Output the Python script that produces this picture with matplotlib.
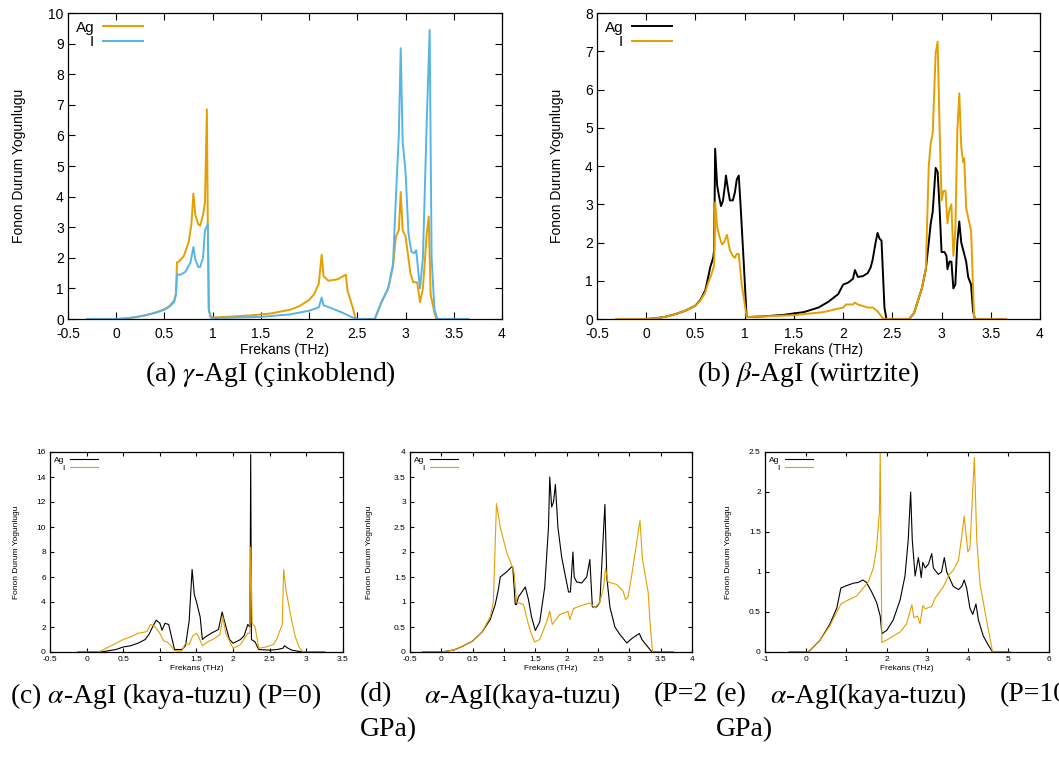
import matplotlib
matplotlib.use("Agg")
import matplotlib.pyplot as plt

plt.rcParams['font.family'] = ['Liberation Sans', 'DejaVu Sans']
plt.rcParams['mathtext.fontset'] = 'stix'

ORANGE = '#E69F00'
BLUE = '#56B4E9'
BLACK = '#000000'

# --- (a) gamma-AgI, zincblende ---
a_ag_x = [-0.3, 0.0, 0.1, 0.2, 0.3, 0.4, 0.5, 0.55, 0.6, 0.62, 0.63, 0.65, 0.7, 0.75, 0.78, 0.8, 0.82, 0.85,
          0.87, 0.9, 0.92, 0.94, 0.95, 0.96, 0.98, 1.0, 1.2, 1.4, 1.6, 1.8, 1.9, 2.0, 2.05, 2.1, 2.13, 2.15,
          2.2, 2.3, 2.38, 2.4, 2.45, 2.48, 2.5, 2.68, 2.75, 2.82, 2.87, 2.9, 2.93, 2.95, 2.97, 3.0, 3.05,
          3.08, 3.12, 3.15, 3.18, 3.22, 3.24, 3.26, 3.3, 3.32, 3.65]
a_ag_y = [0, 0, 0.02, 0.06, 0.12, 0.2, 0.32, 0.42, 0.6, 0.85, 1.85, 1.88, 2.05, 2.5, 3.1, 4.1, 3.4, 3.1,
          3.05, 3.4, 3.8, 6.85, 3.0, 0.3, 0.08, 0.05, 0.08, 0.12, 0.18, 0.3, 0.42, 0.62, 0.8, 1.15, 2.1, 1.4,
          1.25, 1.3, 1.45, 0.9, 0.4, 0.05, 0, 0, 0.55, 1.0, 1.7, 2.7, 2.9, 4.15, 2.9, 2.7, 1.5,
          1.2, 1.2, 0.55, 1.0, 2.8, 3.35, 0.8, 0.2, 0, 0]
a_i_x = [-0.3, 0.0, 0.1, 0.2, 0.3, 0.4, 0.5, 0.55, 0.6, 0.62, 0.63, 0.67, 0.72, 0.77, 0.8, 0.82, 0.85, 0.87,
         0.9, 0.92, 0.95, 0.96, 0.98, 1.0, 1.5, 1.8, 2.0, 2.1, 2.13, 2.15, 2.25, 2.35, 2.45, 2.5, 2.68,
         2.75, 2.82, 2.87, 2.9, 2.93, 2.95, 2.97, 3.0, 3.03, 3.06, 3.09, 3.11, 3.15, 3.18, 3.22, 3.25,
         3.27, 3.3, 3.33, 3.65]
a_i_y = [0, 0, 0.02, 0.06, 0.12, 0.2, 0.3, 0.4, 0.55, 0.8, 1.45, 1.45, 1.55, 1.85, 2.35, 1.95, 1.7, 1.7,
         2.0, 2.9, 3.1, 0.3, 0.05, 0.03, 0.07, 0.15, 0.27, 0.38, 0.7, 0.45, 0.33, 0.2, 0.05, 0, 0,
         0.55, 1.0, 1.8, 4.0, 6.0, 8.85, 5.8, 4.8, 2.8, 2.2, 2.15, 2.25, 1.0, 2.0, 6.5, 9.45,
         2.0, 0.3, 0, 0]

# --- (b) beta-AgI, wurtzite ---
b_ag_x = [-0.3, 0.0, 0.1, 0.2, 0.3, 0.4, 0.5, 0.55, 0.6, 0.63, 0.65, 0.68, 0.69, 0.7, 0.72, 0.74, 0.76,
          0.78, 0.8, 0.81, 0.83, 0.85, 0.88, 0.9, 0.92, 0.94, 0.96, 0.99, 1.02, 1.2, 1.4, 1.6, 1.75, 1.85,
          1.95, 2.0, 2.05, 2.1, 2.12, 2.15, 2.2, 2.25, 2.28, 2.3, 2.33, 2.35, 2.37, 2.39, 2.42, 2.44,
          2.67, 2.72, 2.8, 2.84, 2.87, 2.89, 2.91, 2.94, 2.96, 2.98, 3.0, 3.03, 3.05, 3.06, 3.08, 3.1,
          3.12, 3.14, 3.16, 3.18, 3.2, 3.25, 3.27, 3.3, 3.32, 3.34, 3.65]
b_ag_y = [0, 0, 0.02, 0.06, 0.13, 0.22, 0.35, 0.5, 0.75, 1.1, 1.35, 1.6, 1.8, 4.45, 3.5, 3.2, 2.95,
          3.1, 3.5, 3.75, 3.4, 3.1, 3.1, 3.3, 3.65, 3.75, 2.9, 1.5, 0.05, 0.07, 0.11, 0.18, 0.3, 0.45,
          0.65, 0.9, 0.95, 1.05, 1.28, 1.1, 1.12, 1.2, 1.35, 1.55, 2.0, 2.25, 2.1, 2.05, 0.3, 0,
          0, 0.15, 0.8, 1.3, 2.0, 2.5, 2.8, 3.95, 3.85, 2.9, 1.75, 1.75, 1.65, 1.3, 1.5, 1.5,
          0.8, 0.9, 2.0, 2.55, 2.0, 1.5, 1.1, 0.9, 0.2, 0, 0]
b_i_x = [-0.3, 0.0, 0.1, 0.2, 0.3, 0.4, 0.5, 0.55, 0.6, 0.63, 0.66, 0.69, 0.7, 0.72, 0.75, 0.77, 0.79,
         0.82, 0.85, 0.88, 0.9, 0.92, 0.94, 0.97, 1.0, 1.02, 1.5, 1.8, 2.0, 2.03, 2.1, 2.12, 2.15, 2.25,
         2.3, 2.35, 2.4, 2.42, 2.67, 2.72, 2.8, 2.84, 2.87, 2.89, 2.91, 2.94, 2.96, 2.98, 3.0, 3.02,
         3.04, 3.06, 3.08, 3.1, 3.12, 3.14, 3.16, 3.18, 3.2, 3.22, 3.23, 3.25, 3.3, 3.33, 3.35, 3.65]
b_i_y = [0, 0, 0.02, 0.06, 0.13, 0.22, 0.35, 0.48, 0.7, 0.95, 1.15, 1.4, 3.05, 2.4, 2.1, 1.95, 2.0,
         2.2, 1.8, 1.65, 1.6, 1.7, 1.7, 0.9, 0.4, 0.05, 0.1, 0.18, 0.3, 0.38, 0.38, 0.43, 0.38, 0.3,
         0.3, 0.2, 0.03, 0, 0, 0.15, 0.8, 1.3, 4.0, 4.6, 4.85, 6.95, 7.25, 5.0, 3.1, 3.35,
         3.35, 2.5, 2.85, 3.0, 1.65, 2.3, 4.9, 5.9, 4.5, 4.1, 4.2, 2.9, 2.3, 0.05, 0, 0]

# --- (c) alpha-AgI, rock salt, P=0 ---
c_ag_x = [-0.12, 0.2, 0.3, 0.4, 0.5, 0.6, 0.7, 0.8, 0.85, 0.9, 0.95, 1.0, 1.03, 1.07, 1.12, 1.16, 1.2,
          1.3, 1.35, 1.4, 1.44, 1.47, 1.5, 1.55, 1.58, 1.62, 1.7, 1.8, 1.85, 1.88, 1.95, 2.0, 2.1, 2.15,
          2.2, 2.23, 2.24, 2.25, 2.3, 2.35, 2.5, 2.6, 2.68, 2.7, 2.75, 2.8, 2.9, 2.95, 3.25]
c_ag_y = [0, 0, 0.1, 0.2, 0.4, 0.5, 0.7, 1.0, 1.4, 2.0, 2.55, 2.3, 1.75, 2.3, 2.2, 1.2, 0.2,
          0.2, 0.5, 2.5, 6.6, 4.6, 4.0, 2.8, 1.0, 1.2, 1.5, 1.8, 3.2, 2.5, 1.0, 0.7, 1.0, 1.3,
          2.2, 2.0, 15.8, 1.0, 0.8, 0.2, 0.15, 0.2, 0.3, 0.5, 0.3, 0.15, 0.05, 0, 0]
c_i_x = [-0.12, 0.15, 0.2, 0.3, 0.4, 0.5, 0.6, 0.7, 0.8, 0.83, 0.87, 0.92, 1.0, 1.05, 1.1, 1.15, 1.2,
         1.3, 1.35, 1.4, 1.45, 1.5, 1.53, 1.58, 1.65, 1.75, 1.82, 1.86, 1.9, 2.0, 2.1, 2.2, 2.23, 2.24,
         2.26, 2.3, 2.35, 2.45, 2.55, 2.6, 2.67, 2.69, 2.72, 2.8, 2.85, 2.9, 2.95, 3.25]
c_i_y = [0, 0, 0.1, 0.4, 0.7, 1.0, 1.2, 1.5, 1.6, 1.7, 2.2, 2.1, 1.5, 0.9, 0.8, 0.5, 0.1,
         0.1, 0.7, 0.6, 1.3, 1.5, 1.2, 0.5, 0.8, 1.1, 1.4, 2.8, 1.5, 0.3, 0.6, 1.5, 1.5, 8.4,
         2.3, 2.0, 0.3, 0.4, 0.6, 1.1, 2.2, 6.6, 5.0, 2.5, 1.2, 0.4, 0, 0]

# --- (d) alpha-AgI, rock salt, P=2 GPa ---
d_ag_x = [-0.3, 0.0, 0.2, 0.35, 0.5, 0.65, 0.78, 0.86, 0.91, 0.94, 1.04, 1.12, 1.14, 1.18, 1.2, 1.23,
          1.34, 1.39, 1.44, 1.5, 1.57, 1.65, 1.71, 1.73, 1.76, 1.79, 1.82, 1.86, 1.92, 1.99, 2.03, 2.06,
          2.1, 2.12, 2.16, 2.24, 2.32, 2.37, 2.41, 2.48, 2.53, 2.61, 2.64, 2.69, 2.77, 2.85, 2.96, 3.04,
          3.16, 3.2, 3.36, 3.7]
d_ag_y = [0, 0, 0.04, 0.12, 0.22, 0.4, 0.65, 0.95, 1.25, 1.5, 1.6, 1.7, 1.7, 0.95, 0.95, 1.1,
          1.3, 1.05, 0.7, 0.43, 0.6, 1.3, 2.5, 3.5, 2.9, 3.0, 3.35, 2.5, 1.9, 1.45, 1.2, 1.2,
          2.0, 1.5, 1.4, 1.38, 1.5, 1.85, 0.9, 0.9, 1.0, 2.95, 1.5, 0.9, 0.5, 0.35, 0.18, 0.27,
          0.37, 0.25, 0, 0]
d_i_x = [-0.3, 0.0, 0.2, 0.35, 0.5, 0.65, 0.78, 0.83, 0.88, 0.94, 1.04, 1.12, 1.16, 1.2, 1.31, 1.39,
         1.44, 1.49, 1.57, 1.68, 1.73, 1.77, 1.81, 1.89, 2.0, 2.02, 2.05, 2.11, 2.24, 2.37, 2.45, 2.53,
         2.59, 2.62, 2.66, 2.8, 2.9, 2.94, 2.98, 3.04, 3.17, 3.21, 3.3, 3.33, 3.37, 3.7]
d_i_y = [0, 0, 0.04, 0.12, 0.22, 0.4, 0.7, 1.0, 2.97, 2.5, 2.0, 1.75, 1.6, 1.0, 0.95, 0.55,
         0.35, 0.2, 0.25, 0.6, 0.82, 0.55, 0.62, 0.75, 0.8, 0.82, 0.65, 0.87, 0.93, 0.98, 0.88, 1.0,
         1.3, 1.68, 1.4, 1.35, 1.22, 1.05, 1.1, 1.55, 2.63, 1.85, 1.2, 0.6, 0, 0]

# --- (e) alpha-AgI, rock salt, P=10 GPa ---
e_ag_x = [-0.4, 0.05, 0.11, 0.36, 0.6, 0.77, 0.87, 1.01, 1.18, 1.3, 1.41, 1.5, 1.63, 1.75, 1.84, 1.88,
          2.0, 2.16, 2.33, 2.45, 2.53, 2.59, 2.63, 2.7, 2.78, 2.82, 2.85, 2.89, 2.95, 3.03, 3.11, 3.15,
          3.27, 3.35, 3.42, 3.48, 3.64, 3.77, 3.85, 3.91, 3.97, 4.05, 4.12, 4.2, 4.26, 4.38, 4.51, 4.61,
          5.04]
e_ag_y = [0, 0, 0.02, 0.15, 0.35, 0.55, 0.8, 0.83, 0.86, 0.87, 0.9, 0.87, 0.75, 0.62, 0.45, 0.23,
          0.27, 0.4, 0.65, 0.95, 1.4, 2.0, 1.4, 0.95, 1.18, 1.05, 0.93, 1.12, 1.05, 1.1, 1.23, 1.05,
          0.97, 1.0, 1.18, 1.0, 0.82, 0.78, 0.82, 0.9, 0.8, 0.55, 0.47, 0.6, 0.4, 0.2, 0.08, 0,
          0]
e_i_x = [-0.4, 0.05, 0.11, 0.36, 0.6, 0.77, 0.87, 1.01, 1.26, 1.42, 1.55, 1.67, 1.75, 1.82, 1.84, 1.88,
         2.0, 2.33, 2.49, 2.57, 2.62, 2.67, 2.76, 2.82, 2.89, 2.95, 3.11, 3.19, 3.4, 3.54, 3.64, 3.77,
         3.85, 3.91, 4.0, 4.05, 4.09, 4.16, 4.22, 4.3, 4.46, 4.61, 5.04]
e_i_y = [0, 0, 0.02, 0.15, 0.33, 0.5, 0.6, 0.64, 0.7, 0.8, 0.88, 1.05, 1.3, 1.75, 2.48, 0.12,
         0.15, 0.25, 0.35, 0.5, 0.59, 0.43, 0.45, 0.35, 0.58, 0.54, 0.57, 0.67, 0.82, 0.97, 1.02, 1.15,
         1.45, 1.7, 1.25, 1.3, 1.7, 2.43, 1.4, 0.85, 0.4, 0, 0]

W, H = 1059, 763


def px_axes(fig, left, top, right, bottom):
    return fig.add_axes([left / W, 1 - bottom / H, (right - left) / W, (bottom - top) / H])


def style_axes(ax, xlim, ylim, xticks, yticks, fs, tick_len, xpad, ylpad):
    ax.set_xlim(*xlim)
    ax.set_ylim(*ylim)
    ax.set_xticks(xticks)
    ax.set_yticks(yticks)
    ax.set_xticklabels([f'{t:g}' for t in xticks])
    ax.set_yticklabels([f'{t:g}' for t in yticks])
    ax.tick_params(direction='in', top=True, right=True, length=tick_len, width=0.8,
                   labelsize=fs, pad=3)
    ax.tick_params(axis='x', pad=xpad)
    for s in ax.spines.values():
        s.set_linewidth(0.9)
    ax.set_xlabel('Frekans (THz)', fontsize=fs, labelpad=1)
    ax.set_ylabel('Fonon Durum Yogunlugu', fontsize=fs, labelpad=ylpad)


def draw_panel(ax, series, lw, fs, hlen):
    for x, y, c, lab in series:
        ax.plot(x, y, color=c, lw=lw, label=lab)
    ax.legend(loc='upper left', frameon=False, markerfirst=False, alignment='right',
              fontsize=fs, handlelength=hlen, handletextpad=0.6, labelspacing=0.05,
              borderaxespad=0.2, borderpad=0.3)


fig = plt.figure(figsize=(W / 100, H / 100), dpi=100)

ax_a = px_axes(fig, 68, 13, 502, 319)
draw_panel(ax_a, [(a_ag_x, a_ag_y, ORANGE, 'Ag'), (a_i_x, a_i_y, BLUE, 'I')], 1.4, 11, 2.6)
style_axes(ax_a, (-0.5, 4), (0, 10), [-0.5, 0, 0.5, 1, 1.5, 2, 2.5, 3, 3.5, 4], range(0, 11),
           10, 5, 6, 16)

ax_b = px_axes(fig, 597, 13, 1040, 319)
draw_panel(ax_b, [(b_ag_x, b_ag_y, BLACK, 'Ag'), (b_i_x, b_i_y, ORANGE, 'I')], 1.4, 11, 2.6)
style_axes(ax_b, (-0.5, 4), (0, 8), [-0.5, 0, 0.5, 1, 1.5, 2, 2.5, 3, 3.5, 4], range(0, 9),
           10, 5, 6, 15)

ax_c = px_axes(fig, 50, 452, 343, 652)
draw_panel(ax_c, [(c_ag_x, c_ag_y, BLACK, 'Ag'), (c_i_x, c_i_y, ORANGE, 'I')], 0.8, 6, 3.4)
style_axes(ax_c, (-0.5, 3.5), (0, 16), [-0.5, 0, 0.5, 1, 1.5, 2, 2.5, 3, 3.5], range(0, 17, 2),
           6, 3, 3, 12)

ax_d = px_axes(fig, 410, 452, 692, 652)
draw_panel(ax_d, [(d_ag_x, d_ag_y, BLACK, 'Ag'), (d_i_x, d_i_y, ORANGE, 'I')], 0.8, 6, 3.4)
style_axes(ax_d, (-0.5, 4), (0, 4), [-0.5, 0, 0.5, 1, 1.5, 2, 2.5, 3, 3.5, 4],
           [0, 0.5, 1, 1.5, 2, 2.5, 3, 3.5, 4], 6, 3, 3, 15)

ax_e = px_axes(fig, 765, 452, 1049, 652)
draw_panel(ax_e, [(e_ag_x, e_ag_y, BLACK, 'Ag'), (e_i_x, e_i_y, ORANGE, 'I')], 0.8, 6, 3.4)
style_axes(ax_e, (-1, 6), (0, 2.5), range(-1, 7), [0, 0.5, 1, 1.5, 2, 2.5], 6, 3, 3, 12)

# sub-figure captions (serif, LaTeX-like)
cap = dict(fontsize=20, family=['Liberation Serif', 'DejaVu Serif'], va='center_baseline')


def ftext(x, y, s, ha='left'):
    fig.text(x / W, 1 - y / H, s, ha=ha, **cap)


ftext(145, 370, r'(a) $\gamma$-AgI (çinkoblend)')
ftext(697, 370, r'(b) $\beta$-AgI (würtzite)')
ftext(10, 692, r'(c) $\alpha$-AgI (kaya-tuzu) (P=0)')
ftext(360, 692, '(d)')
ftext(424, 692, r'$\alpha$-AgI(kaya-tuzu)')
ftext(708, 692, '(P=2', ha='right')
ftext(360, 727, 'GPa)')
ftext(716, 692, '(e)')
ftext(770, 692, r'$\alpha$-AgI(kaya-tuzu)')
ftext(1000, 692, '(P=10')
ftext(716, 727, 'GPa)')

fig.savefig('out.png', dpi=100)
